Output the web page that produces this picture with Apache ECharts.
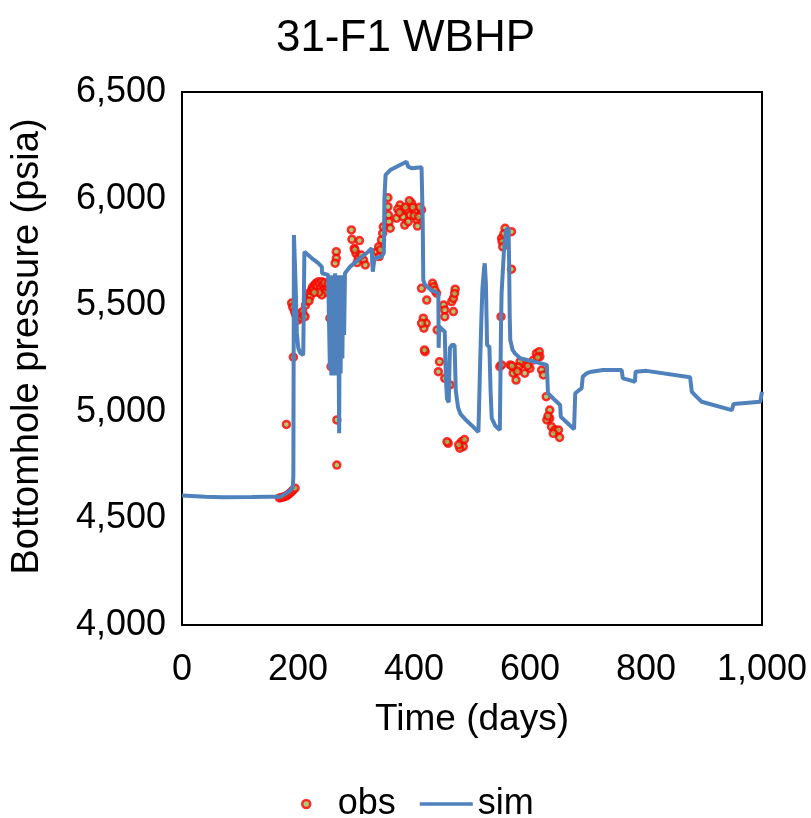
<!DOCTYPE html>
<html>
<head>
<meta charset="utf-8">
<script src="https://cdn.jsdelivr.net/npm/echarts@6/dist/echarts.min.js"></script>
<style>
  html, body { margin: 0; padding: 0; background: #fff; }
  #chart { width: 811px; height: 818px; }
</style>
</head>
<body>
<div id="chart"></div>
<script>
var chartTitle = '31-F1 WBHP';

// simulated bottomhole pressure
var simDays = [0, 40, 70, 120, 150, 169, 180, 188, 191, 192, 193, 194, 196, 198, 200.5, 204, 209, 210, 211, 212, 224, 235, 241, 241.5, 252,
    254, 255, 256.5, 257.5, 259, 260, 261.5, 262.5, 264, 265, 266.5, 267.5, 269, 271, 272, 273.5, 275, 276.5, 278, 279.5, 281,
    290, 307, 321, 327, 328, 329, 331, 333, 344, 348, 349, 351, 359, 376, 387, 389, 390, 396, 413, 415, 416, 419, 423, 430,
    442, 442.5, 443, 443.5, 453, 455, 457, 460, 461, 462, 465, 470, 472, 476, 480, 490, 500, 511,
    512, 514, 516, 518, 521, 522, 524, 526, 530, 532, 534, 540, 548, 550, 551, 555, 559, 563, 564, 565, 566, 570, 574, 583,
    629, 631, 641, 652, 653, 676, 678, 684, 689, 691, 698, 706, 726, 758, 760, 770, 781, 782, 801, 876, 879, 887, 896, 948, 951, 997, 1000];
var simPsia = [4607, 4601, 4599, 4600, 4601, 4601, 4618, 4635, 4646, 4700, 5829, 5829, 5587, 5370, 5299, 5275, 5266, 5500, 5751, 5751, 5720, 5697, 5681, 5650, 5642,
    5640, 5200, 5630, 5170, 5640, 5180, 5630, 5170, 5650, 5200, 5630, 5170, 5640, 4900, 5620, 5180, 5640, 5250, 5640, 5360, 5650,
    5681, 5720, 5751, 5767, 5700, 5657, 5700, 5720, 5728, 5745, 6000, 6111, 6134, 6158, 6173, 6173, 6150, 6142, 6147, 5900, 5618, 5595, 5587, 5570,
    5556, 5300, 5300, 5400, 5376, 5150, 5060, 5045, 5200, 5300, 5313, 5313, 5100, 5020, 4990, 4960, 4935, 4905,
    5000, 5228, 5420, 5580, 5680, 5696, 5600, 5313, 5305, 5100, 4970, 4935, 4915, 5400, 5556, 5750, 5853, 5861, 5700, 5450, 5337, 5290, 5274, 5251,
    5220, 5087, 5060, 5032, 4977, 4918, 5087, 5100, 5110, 5165, 5181, 5188, 5196, 5196, 5157, 5150, 5141, 5188, 5192, 5162, 5094, 5071, 5047, 5008, 5037, 5047, 5094];

// observed bottomhole pressure
var obsDays = [168, 172, 176, 180, 183, 186, 189, 192, 195,
    180, 192, 192, 267, 267, 257, 255, 266, 266, 264,
    189, 191, 194, 196, 198, 200, 202, 204, 206, 208, 210, 212, 213, 215, 217, 219, 221, 223, 225, 227, 229, 231, 233, 235, 237, 239, 241, 243, 245, 247, 249, 251, 241, 236, 246, 252, 228, 219,
    292, 293, 306, 297, 300, 304, 313, 316, 298, 309, 302, 336, 339, 340, 344, 346, 347, 342,
    355, 355, 356, 357, 359, 370, 376, 379, 384, 396, 387, 393, 402, 405, 406, 390, 413, 381, 400, 372, 398, 410, 375, 385, 392, 408,
    413, 422, 432, 434, 439, 451, 453, 453, 465, 468, 471, 468, 416, 421, 417, 413, 419, 418, 444, 442, 453, 462, 440, 459, 457, 482, 485, 479, 487, 477, 436, 470,
    557, 551, 552, 553, 568, 550, 568, 548, 555,
    566, 574, 571, 576, 588, 591, 600, 606, 611, 616, 617, 620, 623, 551, 583, 580, 596, 613, 578, 569, 628, 634, 634, 629, 637, 643, 649, 651, 640, 631];
var obsPsia = [4596, 4598, 4601, 4606, 4612, 4618, 4626, 4634, 4642,
    4941, 5256, 5501, 4750, 4962, 5212, 5439, 5751, 5720, 5697,
    5510, 5490, 5470, 5455, 5446, 5430, 5446, 5460, 5440, 5470, 5450, 5446, 5500, 5520, 5540, 5555, 5540, 5570, 5585, 5575, 5595, 5603, 5590, 5610, 5600, 5580, 5610, 5595, 5575, 5560, 5590, 5587, 5548, 5560, 5605, 5600, 5560, 5520,
    5853, 5809, 5803, 5767, 5743, 5720, 5712, 5689, 5760, 5735, 5700, 5751, 5774, 5728, 5806, 5837, 5868, 5760,
    6004, 5962, 5923, 5892, 5861, 5908, 5970, 5947, 5876, 5978, 5947, 5923, 5939, 5900, 5871, 5892, 5947, 5915, 5920, 5950, 5960, 5960, 5935, 5960, 5990, 5915,
    5579, 5524, 5603, 5587, 5556, 5501, 5478, 5446, 5517, 5532, 5575, 5470, 5439, 5415, 5392, 5415, 5282, 5290, 5235, 5188, 5157, 5126, 5384, 4852, 4860, 4860, 4837, 4829, 4870, 4845, 5570, 5555,
    5861, 5814, 5798, 5774, 5669, 5446, 5845, 5212, 5835,
    5220, 5204, 5181, 5149, 5227, 5181, 5204, 5243, 5274, 5282, 5259, 5196, 5173, 5220, 5235, 5210, 5215, 5255, 5190, 5215, 5071, 5008, 4969, 4962, 4930, 4915, 4915, 4880, 4899, 4980];

function zip(xs, ys) {
    var out = [];
    for (var i = 0; i < xs.length; i++) out.push([xs[i], ys[i]]);
    return out;
}

function fmt(v) {
    return Number(v).toLocaleString('en-US');
}

var font = 'Liberation Sans, Arial, sans-serif';
var obsStyle = { color: '#9BBB59', borderColor: '#FF0000', borderWidth: 2.5 };
var chart = echarts.init(document.getElementById('chart'));

chart.setOption({
    animation: false,
    backgroundColor: '#fff',
    title: {
        text: chartTitle,
        left: 'center',
        top: 12,
        textStyle: { fontFamily: font, fontSize: 44, fontWeight: 'normal', color: '#000' },
    },
    grid: {
        left: 182, right: 49, top: 92, bottom: 193,
        show: true, borderColor: '#000', borderWidth: 2, backgroundColor: 'transparent',
    },
    legend: {
        left: 296,
        top: 781,
        itemWidth: 53,
        itemHeight: 8,
        itemGap: 24,
        textStyle: { fontFamily: font, fontSize: 36, color: '#000' },
        data: [
            { name: 'obs', icon: 'circle', itemStyle: obsStyle },
            { name: 'sim', icon: 'path://M0 0 H100 V7 H0 Z', itemStyle: { color: '#4F81BD', borderWidth: 0 } },
        ],
    },
    xAxis: {
        type: 'value',
        min: 0, max: 1000, interval: 200,
        name: 'Time (days)',
        nameLocation: 'middle',
        nameGap: 76,
        nameTextStyle: { fontFamily: font, fontSize: 37, color: '#000' },
        axisLine: { show: false },
        axisTick: { show: false },
        splitLine: { show: false },
        axisLabel: { fontFamily: font, fontSize: 36, color: '#000', margin: 27, formatter: fmt },
    },
    yAxis: {
        type: 'value',
        min: 4000, max: 6500, interval: 500,
        name: 'Bottomhole pressure (psia)',
        nameLocation: 'middle',
        nameGap: 135,
        nameTextStyle: { fontFamily: font, fontSize: 38, color: '#000', padding: [0, 0, 0, 24] },
        axisLine: { show: false },
        axisTick: { show: false },
        splitLine: { show: false },
        axisLabel: { fontFamily: font, fontSize: 36, color: '#000', margin: 16, formatter: fmt },
    },
    series: [
        {
            name: 'obs',
            type: 'scatter',
            data: zip(obsDays, obsPsia),
            symbol: 'circle',
            symbolSize: 7,
            itemStyle: obsStyle,
            z: 2,
        },
        {
            name: 'sim',
            type: 'line',
            data: zip(simDays, simPsia),
            symbol: 'none',
            showSymbol: false,
            smooth: false,
            lineStyle: { color: '#4F81BD', width: 4 },
            itemStyle: { color: '#4F81BD' },
            z: 3,
        },
    ],
});
</script>
</body>
</html>
